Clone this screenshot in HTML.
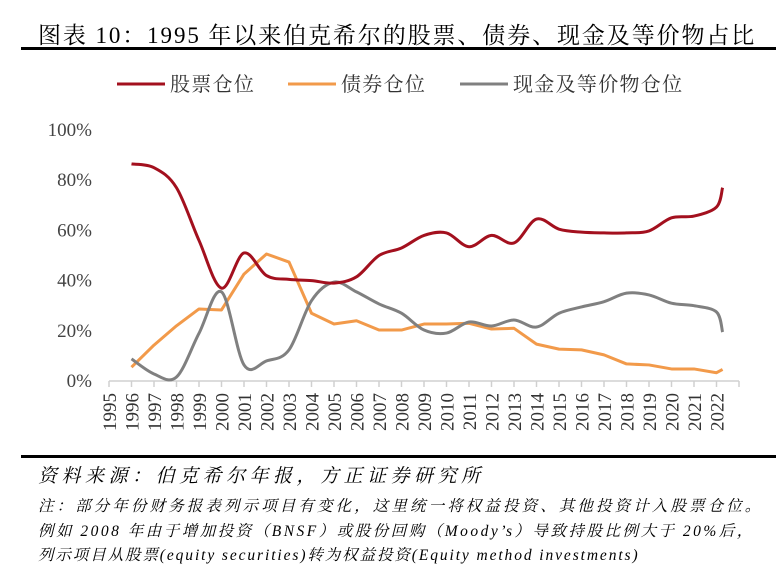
<!DOCTYPE html>
<html><head><meta charset="utf-8"><style>
body{margin:0;background:#fff;width:778px;height:574px;overflow:hidden;position:relative;font-family:"Liberation Serif","Noto Serif CJK SC",serif}
.t{position:absolute;white-space:nowrap}
</style></head><body>
<div class="t" style="left:38px;top:17px;font-size:23px;letter-spacing:1.9px;color:#000">图表 10：1995 年以来伯克希尔的股票、债券、现金及等价物占比</div>
<div style="position:absolute;left:21px;top:47px;width:755px;height:3px;background:#000"></div>
<svg id="chart" width="778" height="574" style="position:absolute;left:0;top:0" xmlns="http://www.w3.org/2000/svg"></svg>
<div style="position:absolute;left:21px;top:455px;width:755px;height:3px;background:#000"></div>
<div class="t" style="left:38px;top:461px;font-size:19px;letter-spacing:4.5px;font-style:italic">资料来源：伯克希尔年报，方正证券研究所</div>
<div class="t" style="left:38px;top:494px;font-size:15.5px;letter-spacing:3.1px;font-style:italic">注：部分年份财务报表列示项目有变化，这里统一将权益投资、其他投资计入股票仓位。</div>
<div class="t" style="left:38px;top:519px;font-size:15.5px;letter-spacing:2.5px;font-style:italic">例如 2008 年由于增加投资（BNSF）或股份回购（Moody’s）导致持股比例大于 20%后，</div>
<div class="t" style="left:38px;top:543px;font-size:15.5px;letter-spacing:1.9px;font-style:italic">列示项目从股票(equity securities)转为权益投资(Equity method investments)</div>
<script>
const categories=["1995","1996","1997","1998","1999","2000","2001","2002","2003","2004","2005","2006","2007","2008","2009","2010","2011","2012","2013","2014","2015","2016","2017","2018","2019","2020","2021","2022"];
const pointYears=[1996,1997,1998,1999,2000,2001,2002,2003,2004,2005,2006,2007,2008,2009,2010,2011,2012,2013,2014,2015,2016,2017,2018,2019,2020,2021,2022,2022.27];
const stocks=[86.5,85,77,56,37,51,42,40.5,40,39,41.5,50,53,58,59,53.5,58,55,64.5,60.5,59.3,59,59,59.8,65,65.7,69.3,77];
const bonds=[5.5,14.3,22,28.7,28.3,42.6,50.6,47.4,27,22.7,24,20.3,20.3,22.7,22.7,23,20.7,21,14.7,12.7,12.4,10.4,6.8,6.4,4.8,4.8,3.3,4.6];
const cash=[8.8,2.8,1.6,19,35.5,6.4,8,12.4,32,39.4,35.5,30.7,27,20.3,19.1,23.5,21.9,24.3,21.5,27,29.5,31.6,35,34.3,31,30,27.5,19.5];
const yTicks=[0,20,40,60,80,100];
const seriesNames=["股票仓位","债券仓位","现金及等价物仓位"];
const NS="http://www.w3.org/2000/svg";
const svg=document.getElementById('chart');
const X0=109,XS=22.5,Y0=381,YS=2.51;
function xs(y){return X0+(y-1995)*XS}
function ys(v){return Y0-v*YS}
function mk(t,a){const e=document.createElementNS(NS,t);for(const k in a)e.setAttribute(k,a[k]);svg.appendChild(e);return e}
let ax=mk('line',{x1:X0,y1:Y0,x2:xs(2023),y2:Y0,stroke:'#d0d0d0','stroke-width':1.5});


for(let i=0;i<=categories.length;i++){
  let tk=mk('line',{x1:xs(1995+i),y1:Y0,x2:xs(1995+i),y2:Y0+6,stroke:'#d0d0d0','stroke-width':1.5});
  
  
}
categories.forEach((c,i)=>{
  const x=xs(1995+i);
  let t=mk('text',{x:0,y:0,transform:`translate(${x+7},${Y0+12}) rotate(-90)`,'text-anchor':'end','font-size':19,fill:'#333','font-family':'Liberation Serif, serif'});
  t.textContent=c;
  
  
});
yTicks.forEach(v=>{
  let t=mk('text',{x:92,y:ys(v)+6,'text-anchor':'end','font-size':19,fill:'#444','font-family':'Liberation Serif, serif'});
  t.textContent=v+'%';
  
  
});
function path(vals,smooth){
  const p=vals.map((v,i)=>[xs(pointYears[i]),ys(v)]);
  let d=`M${p[0][0]},${p[0][1]}`;
  for(let i=0;i<p.length-1;i++){
    if(!smooth){d+=`L${p[i+1][0]},${p[i+1][1]}`;continue;}
    const p0=p[Math.max(0,i-1)],p1=p[i],p2=p[i+1],p3=p[Math.min(p.length-1,i+2)];
    const c1=[p1[0]+(p2[0]-p0[0])/6,p1[1]+(p2[1]-p0[1])/6];
    const c2=[p2[0]-(p3[0]-p1[0])/6,p2[1]-(p3[1]-p1[1])/6];
    d+=`C${c1[0]},${c1[1]} ${c2[0]},${c2[1]} ${p2[0]},${p2[1]}`;
  }
  return d;
}
const cols=['#a3101e','#f29a4a','#808080'];
const names=['stocks-line','bonds-line','cash-line'];
[bonds,cash,stocks].forEach((s,k)=>{
  const idx=[1,2,0][k];
  let e=mk('path',{d:path(s,idx!==1),fill:'none',stroke:cols[idx],'stroke-width':3,'stroke-linejoin':'round'});
  
  
});
const lx=[117,288,460];
seriesNames.forEach((n,i)=>{
  let l=mk('line',{x1:lx[i],y1:84,x2:lx[i]+48,y2:84,stroke:cols[i],'stroke-width':3});
  
  
  let t=mk('text',{x:lx[i]+53,y:91,'font-size':20,'letter-spacing':1.3,fill:'#333','font-family':'Liberation Serif, Noto Serif CJK SC, serif'});
  t.textContent=n;
  
  
});
</script>
</body></html>
